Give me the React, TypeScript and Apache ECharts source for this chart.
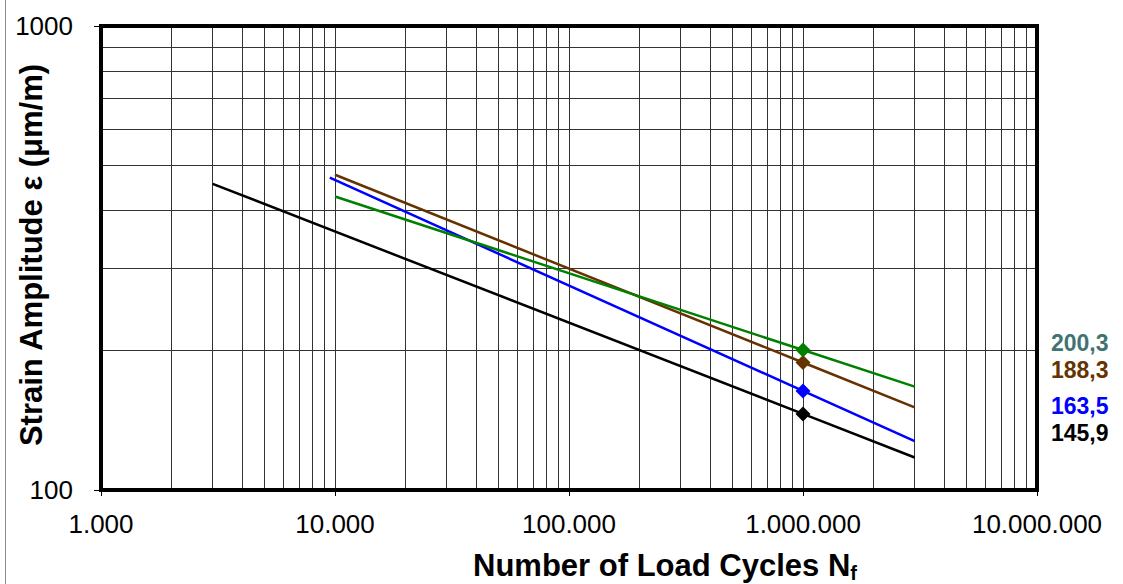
import React, { useEffect, useRef } from "react";
import * as echarts from "echarts";

const FONT = "'Liberation Sans', Arial, sans-serif";

// Line end points and marked point at 1.000.000 cycles
const blackLine = [[3000, 457], [1000000, 145.9], [3000000, 117.5]];
const blueLine = [[9500, 471], [1000000, 163.5], [3000000, 127.4]];
const brownLine = [[10000, 478], [1000000, 188.3], [3000000, 150.7]];
const greenLine = [[10000, 429], [1000000, 200.3], [3000000, 167]];

const seriesNames = ["black", "blue", "brown", "green"];
const seriesColors = ["#000000", "#0000ff", "#663300", "#008000"];
const markerValues = ["145,9", "163,5", "188,3", "200,3"];
const markerLabelColors = ["#000000", "#0000ff", "#663300", "#3f7373"];

const minorMultipliers = [2, 3, 4, 5, 6, 7, 8, 9];
const xDecades = [1000, 10000, 100000, 1000000];
const yMinor = [200, 300, 400, 500, 600, 700, 800, 900];

const fmtThousands = (v: number) =>
  String(Math.round(v)).replace(/\B(?=(\d{3})+(?!\d))/g, ".");

export default function App() {
  const ref = useRef<HTMLDivElement>(null);
  useEffect(() => {
    if (!ref.current) return;
    const chart = echarts.init(ref.current, null, { renderer: "svg" });
    const lines = [blackLine, blueLine, brownLine, greenLine];
    const minorX: number[] = [];
    xDecades.forEach((d) => minorMultipliers.forEach((m) => minorX.push(d * m)));
    const gridStyle = { color: "#333333", width: 1, type: "solid" as const };

    const series: any[] = lines.map((pts, i) => ({
      name: seriesNames[i],
      type: "line",
      z: 5,
      data: pts.map((p, j) => ({
        value: p,
        symbol: j === 1 ? "diamond" : "none",
        symbolSize: 15,
      })),
      lineStyle: { color: seriesColors[i], width: 2.5 },
      itemStyle: { color: seriesColors[i] },
      showSymbol: true,
    }));
    series.push({
      name: "grid",
      type: "line",
      data: [],
      silent: true,
      z: 1,
      markLine: {
        silent: true,
        symbol: "none",
        animation: false,
        label: { show: false },
        lineStyle: gridStyle,
        data: [
          ...minorX.map((x) => ({ xAxis: x })),
          ...yMinor.map((y) => ({ yAxis: y })),
        ],
      },
    });

    const graphics: any[] = [
      {
        type: "line",
        shape: { x1: 5.5, y1: 0, x2: 5.5, y2: 584 },
        style: { stroke: "#8c8c8c", lineWidth: 1 },
      },
      {
        type: "text",
        x: 665,
        y: 565,
        style: {
          text: "Number of Load Cycles N{sub|f}",
          font: `bold 31px ${FONT}`,
          fill: "#000",
          align: "center",
          verticalAlign: "middle",
          rich: {
            sub: { font: `bold 20px ${FONT}`, fill: "#000", padding: [16, 0, 0, 0] },
          },
        },
      },
      {
        type: "text",
        x: 31,
        y: 255,
        rotation: Math.PI / 2,
        style: {
          text: "Strain Amplitude ε (μm/m)",
          font: `bold 31px ${FONT}`,
          fill: "#000",
          align: "center",
          verticalAlign: "middle",
        },
      },
    ];
    const labelY = [433, 406, 370, 343];
    markerValues.forEach((t, i) => {
      graphics.push({
        type: "text",
        x: 1051,
        y: labelY[i],
        style: {
          text: t,
          fontFamily: FONT,
          fontWeight: "bold",
          fontSize: 23,
          lineHeight: 21,
          fill: markerLabelColors[i],
          align: "left",
          verticalAlign: "middle",
        },
      });
    });

    chart.setOption({
      animation: false,
      backgroundColor: "#ffffff",
      grid: {
        left: 101,
        right: 86,
        top: 26,
        bottom: 94,
        show: true,
        borderColor: "#000",
        borderWidth: 4,
        z: 10,
      },
      xAxis: {
        type: "log",
        logBase: 10,
        min: 1000,
        max: 10000000,
        axisLine: { show: true, lineStyle: { color: "#000", width: 4 } },
        axisTick: { show: true, length: 6, lineStyle: { color: "#000", width: 1 } },
        splitLine: { show: true, lineStyle: gridStyle },
        axisLabel: {
          color: "#000",
          fontFamily: FONT,
          fontSize: 26,
          margin: 21,
          formatter: (v: number) => fmtThousands(v),
        },
      },
      yAxis: {
        type: "log",
        logBase: 10,
        min: 100,
        max: 1000,
        axisLine: { show: true, lineStyle: { color: "#000", width: 4 } },
        axisTick: { show: true, length: 7, lineStyle: { color: "#000", width: 1 } },
        splitLine: { show: true, lineStyle: gridStyle },
        axisLabel: {
          color: "#000",
          fontFamily: FONT,
          fontSize: 26,
          margin: 28,
          formatter: (v: number) => String(Math.round(v)),
        },
      },
      series,
      graphic: graphics,
    });
    return () => chart.dispose();
  }, []);
  return (
    <div
      ref={ref}
      style={{ position: "fixed", left: 0, top: 0, width: 1123, height: 584 }}
    />
  );
}
